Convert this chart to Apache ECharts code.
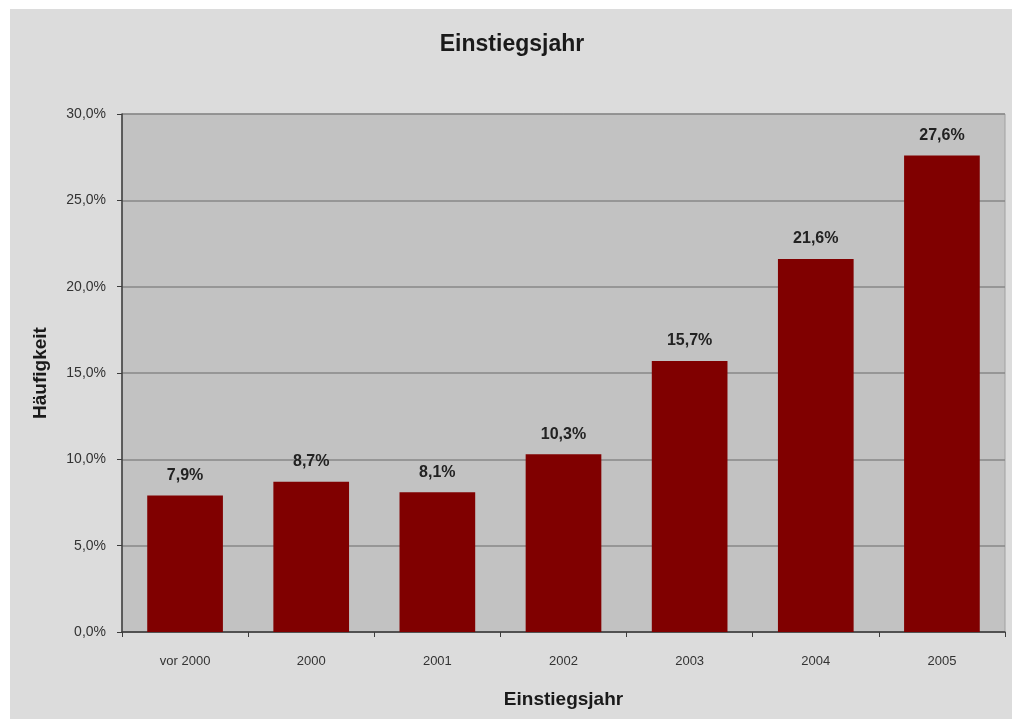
<!DOCTYPE html>
<html>
<head>
<meta charset="utf-8">
<script src="https://cdn.jsdelivr.net/npm/echarts@6/dist/echarts.min.js"></script>
<style>
  html, body { margin: 0; padding: 0; background: #ffffff; }
  #chart { width: 1012px; height: 719px; }
</style>
</head>
<body>
<div id="chart"></div>
<script>
// Share of respondents by year of entry
const categories = ['vor 2000', '2000', '2001', '2002', '2003', '2004', '2005'];
const shares = [7.9, 8.7, 8.1, 10.3, 15.7, 21.6, 27.6];
const yTicks = [0, 5, 10, 15, 20, 25, 30];

const fmtPct = v => Number(v).toFixed(1).replace('.', ',') + '%';
const font = '"Liberation Sans", Arial, sans-serif';

const chart = echarts.init(document.getElementById('chart'), null, { renderer: 'canvas' });

chart.setOption({
  backgroundColor: '#ffffff',
  animation: false,
  graphic: [{
    type: 'rect',
    z: -10,
    silent: true,
    shape: { x: 10, y: 9, width: 1002, height: 710 },
    style: { fill: '#dcdcdc' }
  }],
  title: {
    text: 'Einstiegsjahr',
    left: 507,
    textAlign: 'center',
    top: 28,
    textStyle: { fontFamily: font, fontSize: 23, fontWeight: 'bold', color: '#1a1a1a' }
  },
  grid: {
    left: 122, right: 7, top: 114, bottom: 87,
    show: true,
    backgroundColor: '#c2c2c2',
    borderColor: '#a0a0a0',
    borderWidth: 1
  },
  xAxis: {
    type: 'category',
    data: categories,
    boundaryGap: true,
    name: 'Einstiegsjahr',
    nameLocation: 'middle',
    nameGap: 58,
    nameTextStyle: { fontFamily: font, fontSize: 19, fontWeight: 'bold', color: '#1a1a1a' },
    axisLine: { show: true, lineStyle: { color: '#3c3c3c', width: 1.5 } },
    axisTick: { show: true, length: 5, alignWithLabel: false, lineStyle: { color: '#3c3c3c' } },
    axisLabel: { margin: 23, fontFamily: font, fontSize: 13, color: '#333333' },
    splitLine: { show: false }
  },
  yAxis: {
    type: 'value',
    min: yTicks[0],
    max: yTicks[yTicks.length - 1],
    interval: 5,
    name: 'Häufigkeit',
    nameLocation: 'middle',
    nameGap: 72,
    nameRotate: 90,
    nameTextStyle: { fontFamily: font, fontSize: 19, fontWeight: 'bold', color: '#1a1a1a' },
    axisLine: { show: true, lineStyle: { color: '#3c3c3c', width: 1.5 } },
    axisTick: { show: true, length: 5, lineStyle: { color: '#3c3c3c' } },
    axisLabel: { margin: 16, fontFamily: font, fontSize: 14, color: '#333333', formatter: fmtPct },
    splitLine: { show: true, lineStyle: { color: '#878787', width: 1.5 } }
  },
  series: [{
    type: 'bar',
    data: shares,
    barWidth: '60%',
    itemStyle: { color: '#800000' },
    label: {
      show: true,
      position: 'top',
      distance: 12,
      formatter: p => fmtPct(p.value),
      fontFamily: font,
      fontSize: 16,
      fontWeight: 'bold',
      color: '#222222'
    }
  }]
});
</script>
</body>
</html>
